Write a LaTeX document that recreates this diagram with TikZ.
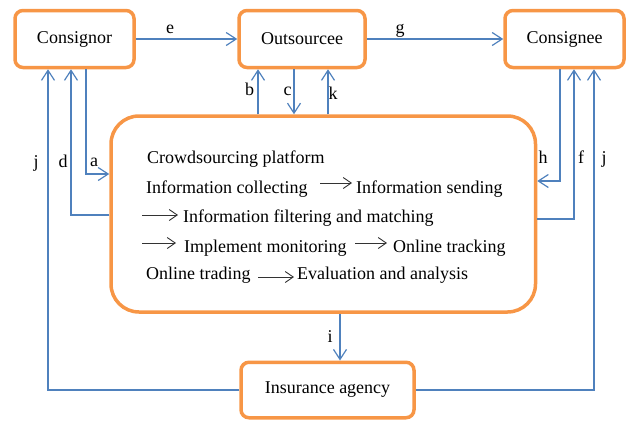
\documentclass[tikz,border=0pt]{standalone}
\usepackage{fontspec}
\setmainfont{Liberation Serif}
\usetikzlibrary{arrows.meta}
\definecolor{boxorange}{RGB}{247,150,70}
\definecolor{linkblue}{RGB}{79,129,189}
\tikzset{
  every node/.style={font=\fontsize{18}{21}\selectfont},
  party/.style={draw=boxorange, line width=3.5pt, rounded corners=8pt, fill=white,
                minimum width=#1, minimum height=57pt, inner sep=0pt},
  platform/.style={draw=boxorange, line width=3.5pt, rounded corners=28pt,
                   minimum width=424.5pt, minimum height=196pt, inner sep=0pt},
  conn/.style={draw=linkblue, line width=1.2pt,
               -{Straight Barb[length=10pt,width=13pt,line width=1.2pt]}},
  plain/.style={draw=linkblue, line width=1.2pt},
  lbl/.style={anchor=base, inner sep=0pt},
  txt/.style={anchor=base west, inner sep=0pt},
  tarr/.style={draw=black!80, line width=0.9pt,
               -{Straight Barb[length=8pt,width=11pt,line width=0.9pt]}}
}
\begin{document}
\begin{tikzpicture}[x=1pt,y=-1pt]
\useasboundingbox (0,0) rectangle (626,421);

% actors
\node[party=119pt] (consignor) at (74.5,39) {Consignor};
\node[party=126pt] (outsourcee) at (302,39) {Outsourcee};
\node[party=119pt] (consignee) at (564.5,39) {Consignee};
\node[party=173pt, minimum height=55.5pt] (insurance) at (327.5,390) {Insurance agency};
\node[platform] (plat) at (323.25,214) {};

% platform contents
\node[txt] (t1)  at (147,163) {Crowdsourcing platform};
\node[txt] (t2a) at (146,193) {Information collecting};
\node[txt] (t2b) at (356,193) {Information sending};
\node[txt] (t3)  at (183,222) {Information filtering and matching};
\node[txt] (t4a) at (184,252) {Implement monitoring};
\node[txt] (t4b) at (393,252) {Online tracking};
\node[txt] (t5a) at (146,279) {Online trading};
\node[txt] (t5b) at (297,279) {Evaluation and analysis};

\coordinate (s2) at (320,183);
\coordinate (s3) at (142,215);
\coordinate (s4a) at (142,243);
\coordinate (s4b) at (355,243);
\coordinate (s5) at (258,277);
\draw[tarr] (s2) -- ++(32,0);
\draw[tarr] (s3) -- ++(36,0);
\draw[tarr] (s4a) -- ++(34,0);
\draw[tarr] (s4b) -- ++(32,0);
\draw[tarr] (s5) -- ++(36,0);

% vertical positions of the link lines
\coordinate (xj) at (48,0);
\coordinate (xd) at (71,0);
\coordinate (xa) at (86,0);
\coordinate (xb) at (258,0);
\coordinate (xc) at (294,0);
\coordinate (xk) at (328,0);
\coordinate (xi) at (340,0);
\coordinate (xh) at (560,0);
\coordinate (xf) at (574,0);
\coordinate (xjr) at (594,0);
\coordinate (ya) at (0,174);
\coordinate (yd) at (0,215);
\coordinate (yh) at (0,181);
\coordinate (yf) at (0,219);

% links
\draw[conn] (consignor) -- (outsourcee);
\draw[conn] (outsourcee) -- (consignee);
\draw[conn] (plat.north -| xb) -- (outsourcee.south -| xb);
\draw[conn] (outsourcee.south -| xc) -- (plat.north -| xc);
\draw[conn] (plat.north -| xk) -- (outsourcee.south -| xk);
\draw[conn] (consignor.south -| xa) -- (xa |- ya) -- (plat.west |- ya);
\draw[conn] (plat.west |- yd) -- (xd |- yd) -- (consignor.south -| xd);
\draw[conn] (insurance.west) -- (xj |- insurance.west) -- (consignor.south -| xj);
\draw[conn] (consignee.south -| xh) -- (xh |- yh) -- (plat.east |- yh);
\draw[conn] (plat.east |- yf) -- (xf |- yf) -- (consignee.south -| xf);
\draw[conn] (insurance.east) -- (xjr |- insurance.east) -- (consignee.south -| xjr);
\draw[conn] (plat.south -| xi) -- (insurance.north -| xi);

% link labels
\node[lbl] (le) at (170,33) {e};
\node[lbl] (lg) at (400,33) {g};
\node[lbl] (lb) at (249.5,95) {b};
\node[lbl] (lc) at (287.5,95) {c};
\node[lbl] (lk) at (333,99) {k};
\node[lbl] (lj) at (36,167) {j};
\node[lbl] (ld) at (63,167) {d};
\node[lbl] (la) at (94,166) {a};
\node[lbl] (lh) at (543,163) {h};
\node[lbl] (lf) at (581,163) {f};
\node[lbl] (ljr) at (604,163) {j};
\node[lbl] (li) at (330,342) {i};
\end{tikzpicture}
\end{document}
